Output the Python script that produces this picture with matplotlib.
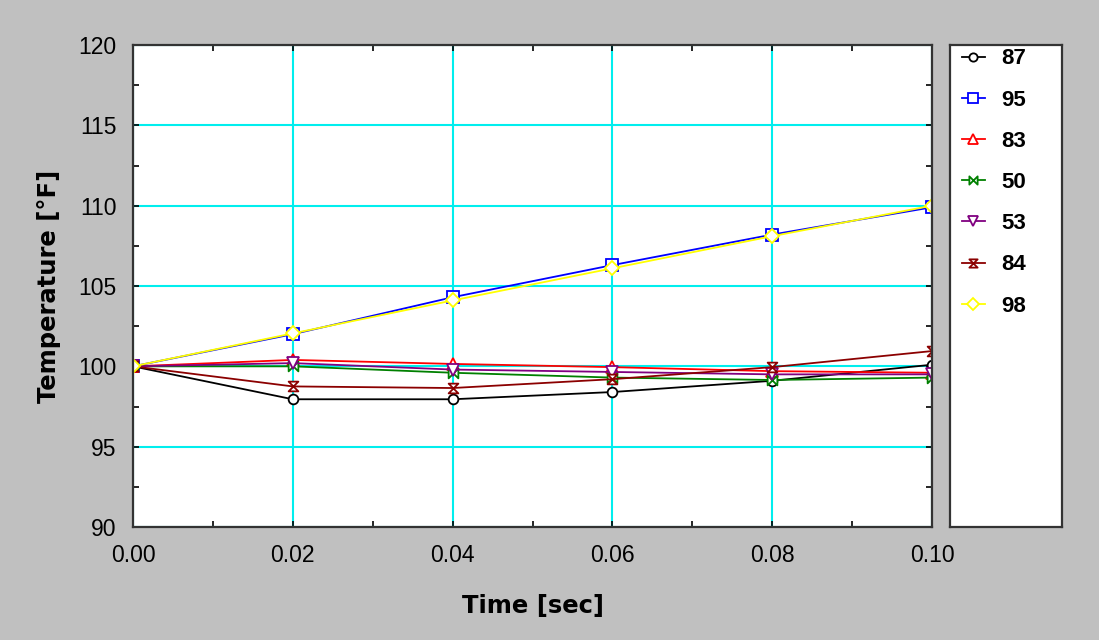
import numpy as np
import matplotlib
matplotlib.use("Agg")
import matplotlib.pyplot as plt
from matplotlib.path import Path
from matplotlib.ticker import MultipleLocator, FormatStrFormatter

# data
time = [0.0, 0.02, 0.04, 0.06, 0.08, 0.10]
labels = ["87", "95", "83", "50", "53", "84", "98"]
t87 = [100.0, 97.95, 97.95, 98.4, 99.1, 100.1]
t95 = [100.0, 102.0, 104.3, 106.3, 108.2, 109.9]
t83 = [100.0, 100.4, 100.15, 99.95, 99.7, 99.6]
t50 = [100.0, 100.0, 99.6, 99.3, 99.15, 99.3]
t53 = [100.0, 100.2, 99.8, 99.65, 99.5, 99.5]
t84 = [100.0, 98.75, 98.65, 99.2, 99.95, 100.95]
t98 = [100.0, 102.05, 104.1, 106.1, 108.1, 110.0]
series = [t87, t95, t83, t50, t53, t84, t98]
colors = ["black", "blue", "red", "green", "purple", "darkred", "yellow"]

# custom bowtie markers
bowtie_h = Path([(-1, -1), (1, 1), (1, -1), (-1, 1), (-1, -1)],
                [Path.MOVETO, Path.LINETO, Path.LINETO, Path.LINETO, Path.CLOSEPOLY])
bowtie_v = Path([(-1, -1), (1, 1), (-1, 1), (1, -1), (-1, -1)],
                [Path.MOVETO, Path.LINETO, Path.LINETO, Path.LINETO, Path.CLOSEPOLY])
markers = ["o", "s", "^", bowtie_h, "v", bowtie_v, "D"]
msizes = [7, 8.5, 8.5, 7, 8.5, 7, 7.5]

plt.rcParams["font.family"] = ["Liberation Sans", "DejaVu Sans"]

fig = plt.figure(figsize=(10.99, 6.40), dpi=100)
fig.patch.set_facecolor("#C0C0C0")

ax = fig.add_axes([133 / 1099, 1 - 527 / 640, (932 - 133) / 1099, (527 - 45) / 640])
ax.set_facecolor("white")

handles = []
for vals, c, m, ms, lab in zip(series, colors, markers, msizes, labels):
    h, = ax.plot(time, vals, color=c, lw=1.3, marker=m, ms=ms,
                 mfc="white", mec=c, mew=1.3, label=lab)
    handles.append(h)

ax.set_xlim(0, 0.1)
ax.set_ylim(90, 120)
ax.xaxis.set_major_locator(MultipleLocator(0.02))
ax.xaxis.set_minor_locator(MultipleLocator(0.01))
ax.yaxis.set_major_locator(MultipleLocator(5))
ax.yaxis.set_minor_locator(MultipleLocator(2.5))
ax.xaxis.set_major_formatter(FormatStrFormatter("%.2f"))
ax.grid(True, which="major", color="#00EEEE", lw=1.5)
ax.set_axisbelow(True)
ax.tick_params(which="both", direction="in", top=True, right=True,
               labelsize=16.5, length=4, width=1.2, pad=12)
for s in ax.spines.values():
    s.set_linewidth(1.6)
    s.set_color("#333333")

ax.set_xlabel("Time [sec]", fontsize=17.5, fontweight="bold", labelpad=20,
              family="DejaVu Sans")
ax.set_ylabel("Temperature [°F]", fontsize=17.5, fontweight="bold", labelpad=12,
              family="DejaVu Sans")

# legend box
lax = fig.add_axes([950 / 1099, 1 - 527 / 640, (1062 - 950) / 1099, (527 - 45) / 640])
lax.set_facecolor("white")
lax.set_xticks([])
lax.set_yticks([])
for s in lax.spines.values():
    s.set_linewidth(1.6)
    s.set_color("#333333")
leg = lax.legend(handles=handles, loc="upper left", bbox_to_anchor=(0.075, 1.0),
                 frameon=False, prop={"weight": "bold", "size": 16},
                 labelspacing=0.91, handlelength=1.05, borderaxespad=0.0,
                 borderpad=0.15, handletextpad=0.75, markerscale=0.85)

fig.savefig("out.png", dpi=100, facecolor=fig.get_facecolor())
